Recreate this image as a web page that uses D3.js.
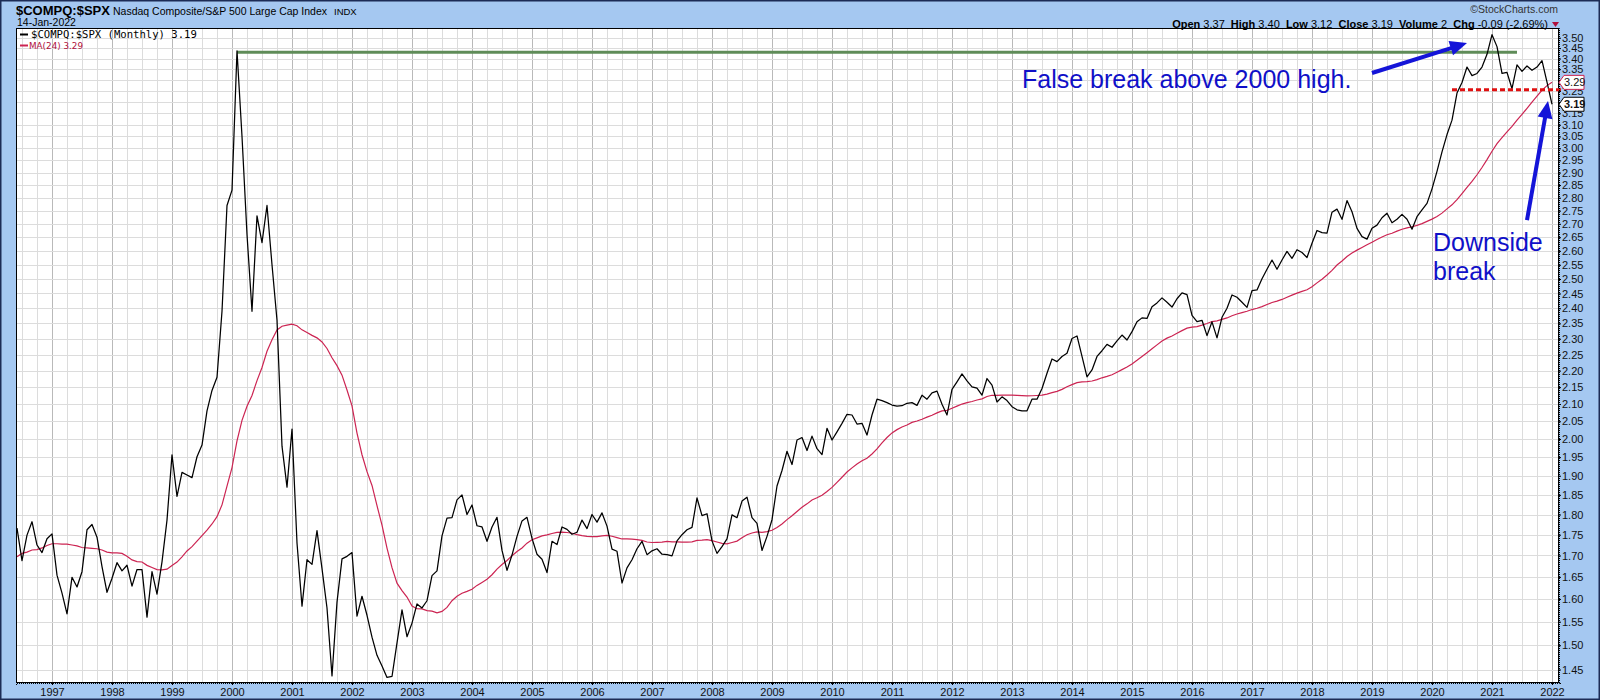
<!DOCTYPE html>
<html><head><meta charset="utf-8">
<script src="https://cdn.jsdelivr.net/npm/d3@7"></script>
<style>body{margin:0;background:#fff}svg{display:block}</style>
</head><body><svg id="c" width="1600" height="700"></svg>
<script>
// ---- data (months counted from Jan 1997 = 0) ----
const firstMonth = -7; // Jun 1996
const ratioMonthly = [
  1.766,1.688,1.749,1.782,1.725,1.707,1.740,                         // 1996 Jun-Dec
  1.752,1.654,1.613,1.567,1.649,1.627,1.662,1.762,1.775,1.744,1.674,1.615, // 1997
  1.647,1.683,1.664,1.677,1.629,1.667,1.667,1.560,1.662,1.611,1.685,1.786, // 1998
  1.956,1.846,1.909,1.902,1.895,1.951,1.983,2.080,2.140,2.180,2.390,2.770, // 1999
  2.830,3.437,3.050,2.660,2.390,2.730,2.630,2.770,2.550,2.360,1.980,1.870, // 2000
  2.028,1.730,1.584,1.690,1.679,1.760,1.669,1.580,1.437,1.593,1.692,1.698, // 2001
  1.707,1.562,1.606,1.564,1.517,1.479,1.457,1.434,1.436,1.505,1.576,1.518, // 2002
  1.547,1.589,1.580,1.596,1.653,1.664,1.747,1.791,1.792,1.837,1.850,1.800, // 2003
  1.824,1.772,1.769,1.734,1.769,1.793,1.712,1.665,1.701,1.746,1.784,1.793, // 2004
  1.741,1.703,1.691,1.660,1.734,1.726,1.769,1.763,1.751,1.756,1.786,1.765, // 2005
  1.800,1.781,1.804,1.771,1.715,1.710,1.636,1.671,1.690,1.716,1.734,1.702, // 2006
  1.711,1.716,1.703,1.702,1.699,1.735,1.750,1.762,1.768,1.842,1.797,1.802, // 2007
  1.735,1.705,1.721,1.740,1.799,1.792,1.834,1.844,1.792,1.778,1.712,1.746, // 2008
  1.787,1.873,1.914,1.966,1.930,1.997,2.004,1.968,2.008,1.973,1.957,2.030, // 2009
  1.997,2.020,2.044,2.070,2.068,2.042,2.044,2.011,2.068,2.114,2.110,2.104, // 2010
  2.097,2.094,2.095,2.102,2.104,2.096,2.126,2.114,2.133,2.138,2.099,2.068, // 2011
  2.143,2.166,2.190,2.169,2.151,2.147,2.126,2.176,2.156,2.106,2.121,2.110, // 2012
  2.092,2.083,2.080,2.080,2.114,2.114,2.146,2.192,2.236,2.228,2.244,2.254, // 2013
  2.301,2.309,2.244,2.181,2.202,2.244,2.262,2.282,2.273,2.293,2.312,2.296, // 2014
  2.323,2.355,2.368,2.366,2.405,2.418,2.435,2.420,2.404,2.432,2.452,2.446, // 2015
  2.376,2.356,2.360,2.310,2.355,2.303,2.370,2.400,2.445,2.437,2.420,2.403, // 2016
  2.460,2.462,2.501,2.534,2.567,2.534,2.567,2.598,2.573,2.604,2.594,2.576, // 2017
  2.628,2.675,2.667,2.665,2.744,2.756,2.717,2.789,2.746,2.683,2.652,2.643, // 2018
  2.683,2.695,2.723,2.740,2.704,2.717,2.736,2.717,2.680,2.727,2.753,2.778, // 2019
  2.835,2.905,2.985,3.058,3.120,3.240,3.288,3.360,3.320,3.330,3.360,3.420, // 2020
  3.515,3.457,3.330,3.335,3.260,3.370,3.340,3.365,3.345,3.360,3.390,3.290, // 2021
  3.190                                                                    // 2022 Jan
];
// MA(24) values for the first 23 months (prior history not shown)
const maEarly = [1.697,1.705,1.708,1.713,1.714,1.718,1.724,1.728,1.728,1.727,1.727,1.725,
                 1.723,1.719,1.718,1.717,1.716,1.713,1.708,1.706,1.706,1.705,1.698];
const maPeriod = 24;
const yearLabels = ["1997","1998","1999","2000","2001","2002","2003","2004","2005","2006","2007","2008","2009",
                    "2010","2011","2012","2013","2014","2015","2016","2017","2018","2019","2020","2021","2022"];
const yTickLabels = ["1.45","1.50","1.55","1.60","1.65","1.70","1.75","1.80","1.85","1.90","1.95","2.00","2.05",
  "2.10","2.15","2.20","2.25","2.30","2.35","2.40","2.45","2.50","2.55","2.60","2.65","2.70","2.75","2.80","2.85",
  "2.90","2.95","3.00","3.05","3.10","3.15","3.20","3.25","3.30","3.35","3.40","3.45","3.50"];
// annotations: [month, value]
const highLine = [[37, 3.43], [293, 3.43]];
const breakLine = [[280, 3.255], [301.8, 3.255]];
const arrowFalse = [[264, 3.332], [283, 3.474]];
const arrowDown = [[295, 2.714], [299.2, 3.204]];
const noteFalse = ["False break above 2000 high."]; const noteFalsePos = [194, 3.262];
const noteDown = ["Downside", "break"]; const noteDownPos = [[276.2, 2.599], [276.2, 2.495]];

// ---- chart ----
const svg = d3.select("#c");
const L = 16, R = 1559, T = 28, B = 683;
const x = d3.scaleLinear().domain([-7.2, 301.4]).range([L, R]);
const y = d3.scaleLog().domain([1.423, 3.548]).range([B, T]);
const BLUE_BG = "#A5C8F1";
const SANS = "Liberation Sans, Arial, sans-serif";

svg.append("rect").attr("x",0.75).attr("y",0.75).attr("width",1598.5).attr("height",698.5)
  .attr("fill",BLUE_BG).attr("stroke","#1c2b55").attr("stroke-width",1.5);
svg.append("rect").attr("x",L).attr("y",T).attr("width",R-L).attr("height",B-T).attr("fill","#fff");

const grid = svg.append("g");
const quarters = d3.range(-6, 301, 3);
grid.selectAll("line.v").data(quarters).join("line")
  .attr("x1",d=>x(d)+0.5).attr("x2",d=>x(d)+0.5).attr("y1",T).attr("y2",B)
  .attr("stroke",d=> d%12===0 ? "#b9b9b9" : "#dcdcdc").attr("stroke-width",1);
const yTicks = yTickLabels.map(Number);
grid.selectAll("line.h").data(yTicks).join("line")
  .attr("x1",L).attr("x2",R).attr("y1",d=>Math.round(y(d))+0.5).attr("y2",d=>Math.round(y(d))+0.5)
  .attr("stroke","#dcdcdc").attr("stroke-width",1);

// MA
const maValues = ratioMonthly.map((v,i)=> i < maPeriod-1 ? maEarly[i] : d3.mean(ratioMonthly.slice(i-maPeriod+1, i+1)));
const lastClose = ratioMonthly[ratioMonthly.length-1];
const lastMA = maValues[maValues.length-1];

svg.append("defs").append("clipPath").attr("id","clip").append("rect")
  .attr("x",L).attr("y",T).attr("width",R-L).attr("height",B-T);
const plot = svg.append("g").attr("clip-path","url(#clip)");

plot.append("path").datum(highLine)
  .attr("d", d3.line().x(d=>x(d[0])).y(d=>y(d[1])))
  .attr("stroke","#5f8c58").attr("stroke-width",3.2).attr("fill","none");

plot.append("path").datum(maValues)
  .attr("d", d3.line().x((d,i)=>x(firstMonth+i)).y(d=>y(d)))
  .attr("fill","none").attr("stroke","#cc2452").attr("stroke-width",1.2);
plot.append("path").datum(ratioMonthly)
  .attr("d", d3.line().x((d,i)=>x(firstMonth+i)).y(d=>y(d)))
  .attr("fill","none").attr("stroke","#000").attr("stroke-width",1.25).attr("stroke-linejoin","round");

svg.append("rect").attr("x",L+0.5).attr("y",T+0.5).attr("width",R-L-1).attr("height",B-T-1)
  .attr("fill","none").attr("stroke","#000").attr("stroke-width",1);

svg.append("path").datum(breakLine)
  .attr("d", d3.line().x(d=>x(d[0])).y(d=>y(d[1])))
  .attr("stroke","#e01010").attr("stroke-width",3).attr("stroke-dasharray","5,3").attr("fill","none");

// axes (labels hidden under the value tags are not drawn, as in the original)
const tagValues = [lastMA, lastClose];
const shownTicks = yTicks.filter(v => tagValues.every(t => Math.abs(y(v)-y(t)) > 7));
const yAxis = svg.append("g").attr("transform",`translate(${R},0)`)
  .call(d3.axisRight(y).tickValues(yTicks).tickFormat(d=> shownTicks.includes(d) ? yTickLabels[yTicks.indexOf(d)] : "").tickSize(2).tickPadding(1));
yAxis.select(".domain").attr("stroke","#000").attr("stroke-dasharray","1,1");
yAxis.selectAll("text").attr("font-family",SANS).attr("font-size","11px").attr("fill","#111");
yAxis.selectAll(".tick line").attr("stroke","#000");

const yearMonths = yearLabels.map((d,i)=>i*12);
const xAxis = svg.append("g").attr("transform",`translate(0,${B})`)
  .call(d3.axisBottom(x).tickValues(yearMonths).tickFormat((d,i)=>yearLabels[i]).tickSize(2).tickPadding(3));
xAxis.select(".domain").attr("stroke","#000").attr("stroke-dasharray","1,1");
xAxis.selectAll("text").attr("font-family",SANS).attr("font-size","11px").attr("fill","#111");
xAxis.selectAll(".tick line").attr("stroke","#000");

function tag(v, label, stroke, bold){
  const yy = y(v);
  const g = svg.append("g");
  g.append("path").attr("d",`M${R},${yy} L${R+5},${yy-7} L${R+25},${yy-7} L${R+25},${yy+7} L${R+5},${yy+7} Z`)
    .attr("fill","#fff").attr("stroke",stroke).attr("stroke-width",1);
  g.append("text").attr("x",R+5).attr("y",yy+4).text(label)
    .attr("font-family",SANS).attr("font-size","11px")
    .attr("font-weight",bold?"bold":"normal").attr("fill","#111");
}
tag(lastMA, d3.format(".2f")(lastMA), "#cc2452", false);
tag(lastClose, d3.format(".2f")(lastClose), "#000", true);

// header
const h = svg.append("g").attr("font-family",SANS).attr("fill","#000");
h.append("text").attr("x",16).attr("y",15).attr("font-size","13px").attr("font-weight","bold").text("$COMPQ:$SPX");
h.append("text").attr("x",113).attr("y",15).attr("font-size","10.5px").text("Nasdaq Composite/S&P 500 Large Cap Index");
h.append("text").attr("x",334).attr("y",15).attr("font-size","9.5px").text("INDX");
h.append("text").attr("x",17).attr("y",26).attr("font-size","10.5px").text("14-Jan-2022");
h.append("text").attr("x",1558).attr("y",13).attr("font-size","10.5px").attr("text-anchor","end").attr("fill","#333").text("©StockCharts.com");
const ohlc = h.append("text").attr("x",1548).attr("y",28).attr("font-size","11px").attr("text-anchor","end").attr("xml:space","preserve");
[["Open"," 3.37  "],["High"," 3.40  "],["Low"," 3.12  "],["Close"," 3.19  "],["Volume"," 2  "],["Chg"," -0.09 (-2.69%)"]]
  .forEach(([a,b])=>{ ohlc.append("tspan").attr("font-weight","bold").text(a); ohlc.append("tspan").text(b); });
svg.append("path").attr("d","M1552,22 L1559,22 L1555.5,27 Z").attr("fill","#b0103c");

// legend
svg.append("line").attr("x1",20).attr("x2",28).attr("y1",34.5).attr("y2",34.5).attr("stroke","#000").attr("stroke-width",2);
svg.append("text").attr("x",31).attr("y",38).attr("font-family","DejaVu Sans Mono, monospace").attr("font-size","10.6px")
  .text("$COMPQ:$SPX (Monthly) " + d3.format(".2f")(lastClose));
svg.append("line").attr("x1",20).attr("x2",28).attr("y1",45.5).attr("y2",45.5).attr("stroke","#cc2452").attr("stroke-width",2);
svg.append("text").attr("x",29).attr("y",49).attr("font-family","DejaVu Sans, sans-serif").attr("font-size","8.8px").attr("fill","#b0103c")
  .text("MA(24) " + d3.format(".2f")(lastMA));

// annotations
const BLUE = "#1414d8";
function arrow(pts){
  const [p0,p1] = pts.map(p=>[x(p[0]), y(p[1])]);
  const dx = p1[0]-p0[0], dy = p1[1]-p0[1], len = Math.hypot(dx,dy);
  const ux = dx/len, uy = dy/len, hl = 17, hw = 7.5;
  const bx = p1[0]-ux*hl, by = p1[1]-uy*hl;
  svg.append("line").attr("x1",p0[0]).attr("y1",p0[1]).attr("x2",bx+ux*2).attr("y2",by+uy*2)
    .attr("stroke",BLUE).attr("stroke-width",4);
  svg.append("path").attr("d",`M${p1[0]},${p1[1]} L${bx-uy*hw},${by+ux*hw} L${bx+uy*hw},${by-ux*hw} Z`).attr("fill",BLUE);
}
arrow(arrowFalse);
arrow(arrowDown);
svg.append("text").attr("x",x(noteFalsePos[0])).attr("y",y(noteFalsePos[1])).attr("font-family",SANS)
  .attr("font-size","25px").attr("fill","#1010c8").text(noteFalse[0]);
noteDown.forEach((t,i)=> svg.append("text").attr("x",x(noteDownPos[i][0])).attr("y",y(noteDownPos[i][1]))
  .attr("font-family",SANS).attr("font-size","25px").attr("fill","#1010c8").text(t));
</script></body></html>
